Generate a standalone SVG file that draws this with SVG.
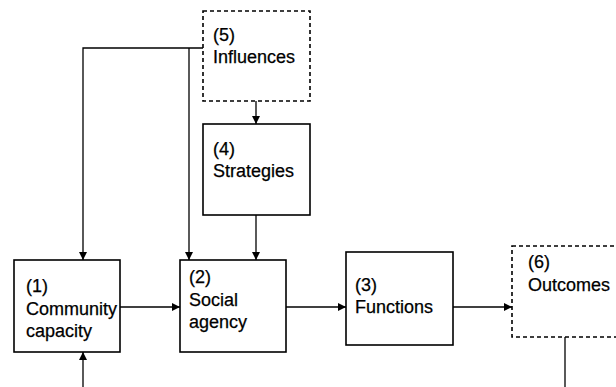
<svg xmlns="http://www.w3.org/2000/svg" width="616" height="387" viewBox="0 0 616 387">
<style>
.box{fill:#fff;stroke:#000;stroke-width:1.6}
.dash{fill:#fff;stroke:#000;stroke-width:1.6;stroke-dasharray:4 3}
.t{font-family:"Liberation Sans",Arial,sans-serif;font-size:18px;fill:#000;stroke:#000;stroke-width:0.25}
.c{fill:none;stroke:#000;stroke-width:1.3}
</style>
<defs>
<marker id="ah" viewBox="0 0 10 10" refX="10" refY="5" markerWidth="8" markerHeight="8" markerUnits="userSpaceOnUse" orient="auto">
<path d="M0,0 L10,5 L0,10 z" fill="#000"/>
</marker>
</defs>
<rect width="616" height="387" fill="#fff"/>
<g id="connectors">
<path class="c" d="M203,48 H83 V260" marker-end="url(#ah)"/>
<path class="c" d="M189,48 V260" marker-end="url(#ah)"/>
<path class="c" d="M256,101 V124" marker-end="url(#ah)"/>
<path class="c" d="M256,215 V260" marker-end="url(#ah)"/>
<path class="c" d="M120,307 H180" marker-end="url(#ah)"/>
<path class="c" d="M286,307 H346" marker-end="url(#ah)"/>
<path class="c" d="M453,307 H512" marker-end="url(#ah)"/>
<path class="c" d="M83,387 V352" marker-end="url(#ah)"/>
<path class="c" d="M565,337 V387"/>
</g>
<g id="n5">
<rect class="dash" x="203" y="11" width="107" height="90"/>
<text class="t" x="213" y="41">(5)</text>
<text class="t" x="213" y="63">Influences</text>
</g>
<g id="n4">
<rect class="box" x="203" y="124" width="107" height="91"/>
<text class="t" x="213" y="155">(4)</text>
<text class="t" x="213" y="177">Strategies</text>
</g>
<g id="n1">
<rect class="box" x="14" y="260" width="106" height="92"/>
<text class="t" x="26" y="292">(1)</text>
<text class="t" x="26" y="315">Community</text>
<text class="t" x="26" y="337">capacity</text>
</g>
<g id="n2">
<rect class="box" x="180" y="260" width="106" height="92"/>
<text class="t" x="189" y="283">(2)</text>
<text class="t" x="189" y="306">Social</text>
<text class="t" x="189" y="328">agency</text>
</g>
<g id="n3">
<rect class="box" x="346" y="252" width="107" height="93"/>
<text class="t" x="355" y="291">(3)</text>
<text class="t" x="355" y="313">Functions</text>
</g>
<g id="n6">
<rect class="dash" x="512" y="246" width="130" height="91"/>
<text class="t" x="528" y="268">(6)</text>
<text class="t" x="528" y="291">Outcomes</text>
</g>
</svg>
